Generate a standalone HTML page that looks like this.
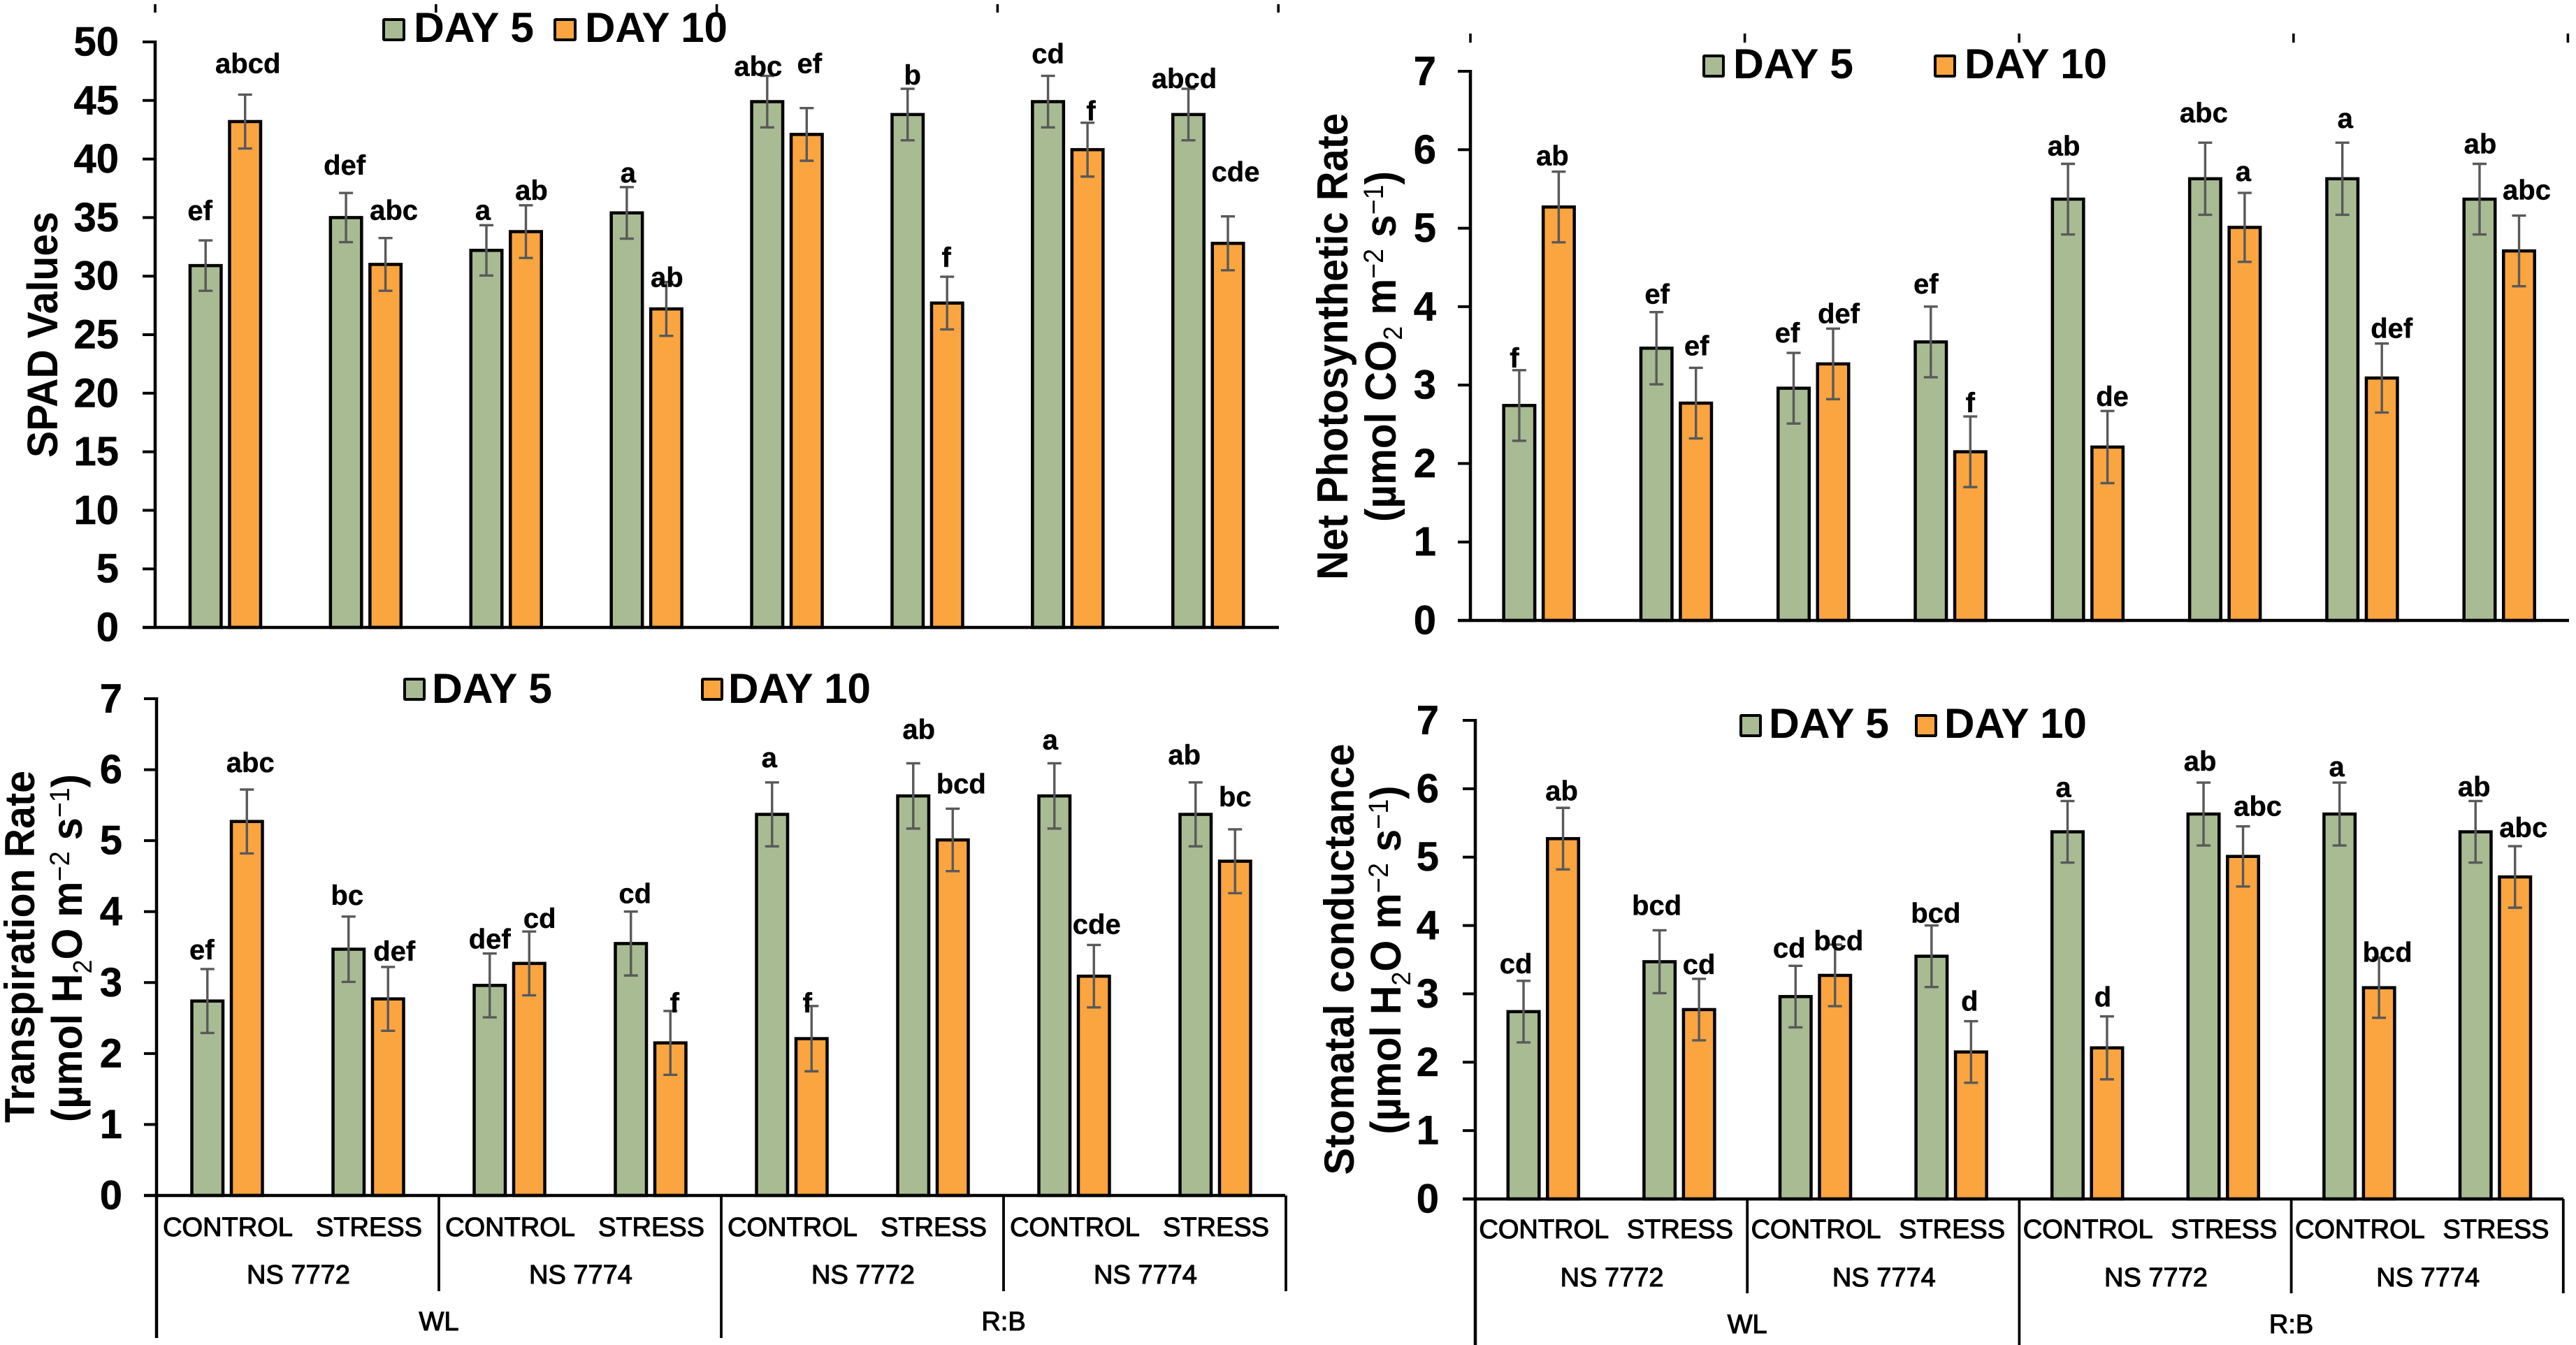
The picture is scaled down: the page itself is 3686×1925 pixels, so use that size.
<!DOCTYPE html>
<html lang="en">
<head>
<meta charset="utf-8">
<title>SPAD, photosynthesis, transpiration and conductance charts</title>
<style>
html,body{margin:0;padding:0;background:#fff;}
svg{display:block;font-family:"Liberation Sans",Arial,sans-serif;}
</style>
</head>
<body>
<svg id="figure" xmlns="http://www.w3.org/2000/svg" width="3686" height="1925" viewBox="0 0 3686 1925"></svg>
<script>
// ---- shared categories ----
const treatments = ["CONTROL","STRESS","CONTROL","STRESS","CONTROL","STRESS","CONTROL","STRESS"];
const cultivars = ["NS 7772","NS 7774","NS 7772","NS 7774"];
const lights = ["WL","R:B"];
const seriesNames = ["DAY 5","DAY 10"];

// ---- SPAD panel ----
const spadTicks = [0,5,10,15,20,25,30,35,40,45,50];
const spadDay5 = [30.9,35.0,32.2,35.4,44.9,43.8,44.9,43.8];
const spadDay10 = [43.2,31.0,33.8,27.2,42.1,27.7,40.8,32.8];
const spadDay5Err = [2.15,2.1,2.15,2.2,2.2,2.2,2.2,2.2];
const spadDay10Err = [2.3,2.25,2.25,2.3,2.25,2.25,2.3,2.3];
const spadDay5Letters = ["ef","def","a","a","abc","b","cd","abcd"];
const spadDay10Letters = ["abcd","abc","ab","ab","ef","f","f","cde"];

// ---- Net photosynthetic rate panel ----
const photoTicks = [0,1,2,3,4,5,6,7];
const photoDay5 = [2.74,3.47,2.96,3.55,5.37,5.63,5.63,5.37];
const photoDay10 = [5.27,2.77,3.27,2.15,2.21,5.01,3.09,4.71];
const photoDay5Err = [0.45,0.46,0.45,0.45,0.45,0.46,0.46,0.45];
const photoDay10Err = [0.45,0.45,0.45,0.45,0.46,0.44,0.44,0.45];
const photoDay5Letters = ["f","ef","ef","ef","ab","abc","a","ab"];
const photoDay10Letters = ["ab","ef","def","f","de","a","def","abc"];

// ---- Transpiration rate panel ----
const transTicks = [0,1,2,3,4,5,6,7];
const transDay5 = [2.74,3.47,2.96,3.55,5.37,5.63,5.63,5.37];
const transDay10 = [5.27,2.77,3.27,2.15,2.21,5.01,3.09,4.71];
const transDay5Err = [0.45,0.46,0.45,0.45,0.45,0.46,0.46,0.45];
const transDay10Err = [0.45,0.45,0.45,0.45,0.46,0.44,0.44,0.45];
const transDay5Letters = ["ef","bc","def","cd","a","ab","a","ab"];
const transDay10Letters = ["abc","def","cd","f","f","bcd","cde","bc"];

// ---- Stomatal conductance panel ----
const stomTicks = [0,1,2,3,4,5,6,7];
const stomDay5 = [2.74,3.47,2.96,3.55,5.37,5.63,5.63,5.37];
const stomDay10 = [5.27,2.77,3.27,2.15,2.21,5.01,3.09,4.71];
const stomDay5Err = [0.45,0.46,0.45,0.45,0.45,0.46,0.46,0.45];
const stomDay10Err = [0.45,0.45,0.45,0.45,0.46,0.44,0.44,0.45];
const stomDay5Letters = ["cd","bcd","cd","bcd","a","ab","a","ab"];
const stomDay10Letters = ["ab","cd","bcd","d","d","abc","bcd","abc"];

const GREEN = "#a9bb93", ORANGE = "#fba541", ERR = "#595959";
const svg = document.getElementById("figure");
const NS = "http://www.w3.org/2000/svg";

function add(parent, tag, attrs, text) {
  const el = document.createElementNS(NS, tag);
  for (const k in attrs) el.setAttribute(k, attrs[k]);
  if (text !== undefined) el.textContent = text;
  parent.appendChild(el);
  return el;
}

// Layout only: label offsets relative to each error-bar top [dx, gap], Day 5 then Day 10 in each group.
const panels = [
 {id:"spad", ax:222, right:1830, tickL:204, top:60, base:898, max:50, ticks:spadTicks,
  d5:spadDay5, d10:spadDay10, e5:spadDay5Err, e10:spadDay10Err, l5:spadDay5Letters, l10:spadDay10Letters,
  stubs:[6,18], tickR:170, groupW:200.9,
  nudge:[[-8,29],[4,31],[-2,26],[12,26],[-5,8],[8,8],[2,7],[1,-7],[-13,0],[4,50],[7,6],[-1,14],[0,18],[5,3],[-6,1],[11,50]],
  legend:{y:26,h:33,w:33,g:547,gt:592,o:792,ot:837,b:60},
  titles:[{x:82,cy:479,len:352,fs:61,parts:[["SPAD Values"]]}]},
 {id:"photosynthesis", ax:2104, right:3676, tickL:2086, top:102, base:888, max:7, ticks:photoTicks,
  d5:photoDay5, d10:photoDay10, e5:photoDay5Err, e10:photoDay10Err, l5:photoDay5Letters, l10:photoDay10Letters,
  stubs:[48,61], tickR:2055, groupW:196.3,
  nudge:[[-7,4],[-9,9],[1,12],[1,18],[-9,15],[8,8],[-7,19],[0,6],[-6,12],[7,7],[-2,29],[-2,17],[4,21],[14,8],[1,15],[11,23]],
  legend:{y:78,h:33,w:32,g:2436,gt:2480,o:2767,ot:2811,b:112},
  titles:[{x:1928,cy:496,len:668,fs:62,parts:[["Net Photosynthetic Rate"]]},
          {x:1997,cy:496,len:502,fs:62,subDy:9,parts:[["(µmol CO"],["2","sub"],[" m"],["\u22122","sup"],[" s"],["\u22121","sup"],[")"]]}]},
 {id:"transpiration", ax:224, right:1839, tickL:206, top:1000, base:1711, max:7, ticks:transTicks,
  d5:transDay5, d10:transDay10, e5:transDay5Err, e10:transDay10Err, l5:transDay5Letters, l10:transDay10Letters,
  groupW:202, tickR:175,
  nudge:[[-8,14],[5,25],[-2,17],[9,9],[0,7],[15,5],[6,12],[6,-2],[-4,22],[-6,-9],[8,35],[12,22],[-6,20],[4,16],[-16,26],[0,33]],
  legend:{y:970,h:33,w:32,g:577,gt:618,o:1003,ot:1042,b:1006},
  tiers:{bottom:1915,mid:1848,t:1769,c:1837,l:1904},
  titles:[{x:49,cy:1355,len:504,fs:60,parts:[["Transpiration Rate"]]},
          {x:117,cy:1357,len:498,fs:61,subDy:14,parts:[["(µmol H"],["2","sub"],["O m"],["\u22122","sup"],[" s"],["\u22121","sup"],[")"]]}]},
 {id:"conductance", ax:2111, right:3668, tickL:2093, top:1031, base:1716, max:7, ticks:stomTicks,
  d5:stomDay5, d10:stomDay10, e5:stomDay5Err, e10:stomDay10Err, l5:stomDay5Letters, l10:stomDay10Letters,
  groupW:194.6, tickR:2059,
  nudge:[[-11,11],[-2,11],[-4,22],[0,7],[-9,12],[5,-8],[6,4],[-2,15],[-6,6],[-6,14],[-5,17],[21,15],[-4,9],[12,-6],[-2,7],[12,13]],
  legend:{y:1022,h:33,w:32,g:2489,gt:2531,o:2740,ot:2782,b:1056},
  tiers:{bottom:1925,mid:1851,t:1772,c:1841,l:1908},
  titles:[{x:1937,cy:1373,len:617,fs:60,parts:[["Stomatal conductance"]]},
          {x:2004,cy:1374,len:499,fs:61,subDy:14,parts:[["(µmol H"],["2","sub"],["O m"],["\u22122","sup"],[" s"],["\u22121","sup"],[")"]]}]}
];

function drawTitle(g, t) {
  const el = add(g, "text", {
    transform: "translate(" + t.x + "," + t.cy + ") rotate(-90)",
    "text-anchor": "middle",
    "font-size": t.fs,
    "font-weight": "bold",
    textLength: t.len,
    lengthAdjust: "spacingAndGlyphs",
    fill: "#000"
  });
  
  
  let shift = 0;
  t.parts.forEach(function (p) {
    const kind = p[1];
    const dy = kind === "sub" ? t.subDy : kind === "sup" ? -18 : 0;
    const attrs = {dy: dy - shift};
    if (kind) {
      attrs["font-size"] = kind === "sub" ? 38 : 40;
      attrs["font-weight"] = "normal";
    }
    add(el, "tspan", attrs, p[0]);
    shift = dy;
  });
}

function drawPanel(p) {
  const g = add(svg, "g", {});
  
  
  const y = function (v) { return p.base - (v / p.max) * (p.base - p.top); };
  const groupCenter = function (i) { return p.ax + p.groupW * (i + 0.5); };
  const barCenter = function (i, s) { return groupCenter(i) + (s === 0 ? -28.25 : 28.25); };

  // y ticks and labels
  p.ticks.forEach(function (v) {
    const yy = y(v);
    const tick = add(g, "line", {x1: p.tickL, x2: p.ax, y1: yy, y2: yy, stroke: "#000", "stroke-width": 4});
    
    
    const lab = add(g, "text", {x: p.tickR, y: yy + 19.5, "text-anchor": "end", "font-size": 58, "font-weight": "bold", fill: "#000", stroke: "#000", "stroke-width": 0.5}, String(v));
    
    
  });

  // bars
  [[p.d5, GREEN, "day5"], [p.d10, ORANGE, "day10"]].forEach(function (s, si) {
    s[0].forEach(function (v, i) {
      const cx = barCenter(i, si);
      const yy = y(v);
      const bar = add(g, "rect", {x: cx - 22.25, y: yy, width: 44.5, height: p.base - yy, fill: s[1], stroke: "#000", "stroke-width": 4.5});
      
      
    });
  });

  // axis lines drawn over bar bottoms
  const yAxis = add(g, "line", {x1: p.ax, x2: p.ax, y1: p.top - 2, y2: p.tiers ? p.tiers.bottom : p.base, stroke: "#000", "stroke-width": 4.5});
  
  
  const xAxis = add(g, "line", {x1: p.tickL, x2: p.right, y1: p.base, y2: p.base, stroke: "#000", "stroke-width": 4.5});
  
  

  // error bars and significance letters
  [[p.d5, p.e5, p.l5], [p.d10, p.e10, p.l10]].forEach(function (s, si) {
    s[0].forEach(function (v, i) {
      const cx = barCenter(i, si);
      const hi = y(v + s[1][i]);
      const lo = y(v - s[1][i]);
      const eg = add(g, "path", {
        d: "M" + cx + " " + hi + "V" + lo + "M" + (cx - 10) + " " + hi + "H" + (cx + 10) + "M" + (cx - 10) + " " + lo + "H" + (cx + 10),
        stroke: ERR, "stroke-width": 3.4, fill: "none"
      });
      
      
      const n = p.nudge[i * 2 + si];
      const t = add(g, "text", {x: cx + n[0], y: hi - n[1], "text-anchor": "middle", "font-size": 40, "font-weight": "bold", fill: "#000", stroke: "#000", "stroke-width": 0.4}, s[2][i]);
      
      
    });
  });

  // top stub ticks
  if (p.stubs) {
    for (let i = 0; i <= 4; i++) {
      const sx = p.ax + p.groupW * 2 * i;
      const stub = add(g, "line", {x1: sx, x2: sx, y1: p.stubs[0], y2: p.stubs[1], stroke: "#000", "stroke-width": 3.6});
      
      
    }
  }

  // multi-level category axis
  if (p.tiers) {
    const tierAttrs = {"text-anchor": "middle", "font-size": 38, fill: "#000", stroke: "#000", "stroke-width": 1.1};
    treatments.forEach(function (name, i) {
      const t = add(g, "text", Object.assign({x: groupCenter(i) + 1, y: p.tiers.t}, tierAttrs), name);
      
      
    });
    cultivars.forEach(function (name, i) {
      const t = add(g, "text", Object.assign({x: p.ax + p.groupW * (2 * i + 1) + 1, y: p.tiers.c}, tierAttrs), name);
      
      
    });
    lights.forEach(function (name, i) {
      const t = add(g, "text", Object.assign({x: p.ax + p.groupW * (4 * i + 2), y: p.tiers.l}, tierAttrs), name);
      
      
    });
    for (let i = 1; i <= 4; i++) {
      const dx = p.ax + p.groupW * 2 * i;
      const dv = add(g, "line", {x1: dx, x2: dx, y1: p.base, y2: i === 2 ? p.tiers.bottom : p.tiers.mid, stroke: "#000", "stroke-width": 3.8});
      
      
    }
  }

  // legend
  const L = p.legend;
  const lg = add(g, "g", {});
  
  
  [[L.g, L.gt, GREEN, 0, 172], [L.o, L.ot, ORANGE, 1, 204]].forEach(function (e) {
    const sw = add(lg, "rect", {x: e[0] + 2, y: L.y + 2, width: L.w - 4, height: L.h - 4, fill: e[2], stroke: "#000", "stroke-width": 4, rx: 1});
    
    
    const tx = add(lg, "text", {x: e[1], y: L.b, "font-size": 60, "font-weight": "bold", fill: "#000", textLength: e[4], lengthAdjust: "spacingAndGlyphs"}, seriesNames[e[3]]);
    
    
  });

  p.titles.forEach(function (t) { drawTitle(g, t); });
}

panels.forEach(drawPanel);
</script>
</body>
</html>
